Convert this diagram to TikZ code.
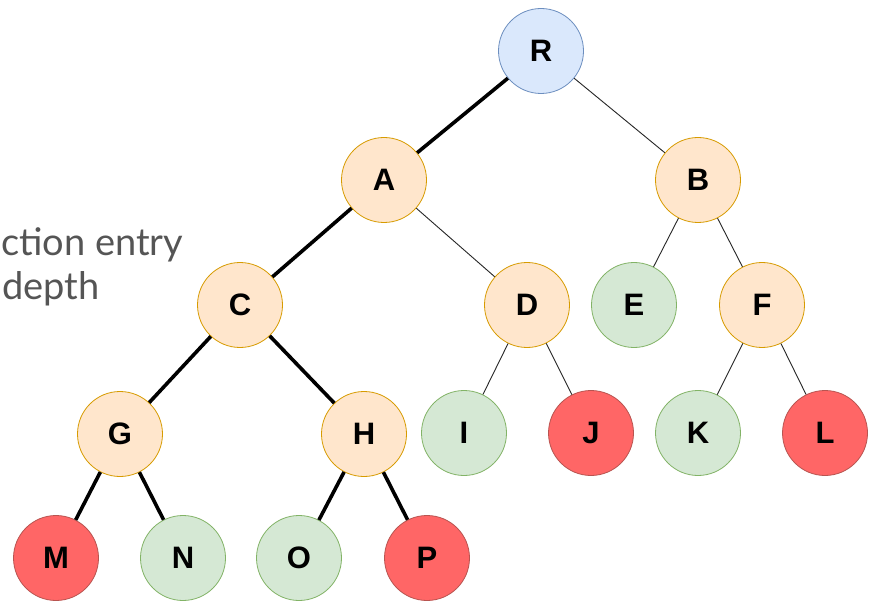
\documentclass[tikz,border=0pt]{standalone}
\usepackage{fontspec}
\setmainfont{Liberation Sans}
\newfontfamily\notefont{Lato}
\definecolor{rootfill}{HTML}{DAE8FC}
\definecolor{rootline}{HTML}{6C8EBF}
\definecolor{midfill}{HTML}{FFE6CC}
\definecolor{midline}{HTML}{D79B00}
\definecolor{okfill}{HTML}{D5E8D4}
\definecolor{okline}{HTML}{82B366}
\definecolor{badfill}{HTML}{FF6666}
\definecolor{badline}{HTML}{B85450}
\definecolor{notegray}{HTML}{555555}
\tikzset{
  tn/.style={circle, minimum size=85pt, inner sep=0pt, line width=0.8pt,
    font=\fontsize{31}{31}\selectfont\bfseries},
  rootnode/.style={tn, draw=rootline, fill=rootfill},
  midnode/.style={tn, draw=midline, fill=midfill},
  oknode/.style={tn, draw=okline, fill=okfill},
  badnode/.style={tn, draw=badline, fill=badfill},
  pathedge/.style={line width=3.6pt, black},
  thinedge/.style={line width=0.9pt, black!85},
  note/.style={font=\notefont\fontsize{38}{38}\selectfont, text=notegray,
    anchor=base west, inner sep=0pt}
}
\begin{document}
\begin{tikzpicture}[x=1pt, y=-1pt]
\useasboundingbox (0,0) rectangle (869,601);
\fill[white] (0,0) rectangle (869,601);

% side note
\node[note] (n1) at (1,256) {ction entry};
\node[note] (n2) at (2,300) {depth};

% tree nodes
\node[rootnode] (R) at (541,51) {R};
\node[midnode] (A) at (384,180) {A};
\node[midnode] (B) at (698,180) {B};
\node[midnode] (C) at (240,305) {C};
\node[midnode] (D) at (527,305) {D};
\node[oknode]  (E) at (634,305) {E};
\node[midnode] (F) at (762,305) {F};
\node[midnode] (G) at (120,434) {G};
\node[midnode] (H) at (364,434) {H};
\node[oknode]  (I) at (464,433) {I};
\node[badnode] (J) at (591,433) {J};
\node[oknode]  (K) at (698,433) {K};
\node[badnode] (L) at (825,433) {L};
\node[badnode] (M) at (56,558) {M};
\node[oknode]  (N) at (183,558) {N};
\node[oknode]  (O) at (299,558) {O};
\node[badnode] (P) at (427,558) {P};

% edges of the highlighted path
\draw[pathedge] (R) -- (A);
\draw[pathedge] (A) -- (C);
\draw[pathedge] (C) -- (G);
\draw[pathedge] (C) -- (H);
\draw[pathedge] (G) -- (M);
\draw[pathedge] (G) -- (N);
\draw[pathedge] (H) -- (O);
\draw[pathedge] (H) -- (P);

% remaining edges
\draw[thinedge] (R) -- (B);
\draw[thinedge] (A) -- (D);
\draw[thinedge] (B) -- (E);
\draw[thinedge] (B) -- (F);
\draw[thinedge] (D) -- (I);
\draw[thinedge] (D) -- (J);
\draw[thinedge] (F) -- (K);
\draw[thinedge] (F) -- (L);
\end{tikzpicture}
\end{document}
